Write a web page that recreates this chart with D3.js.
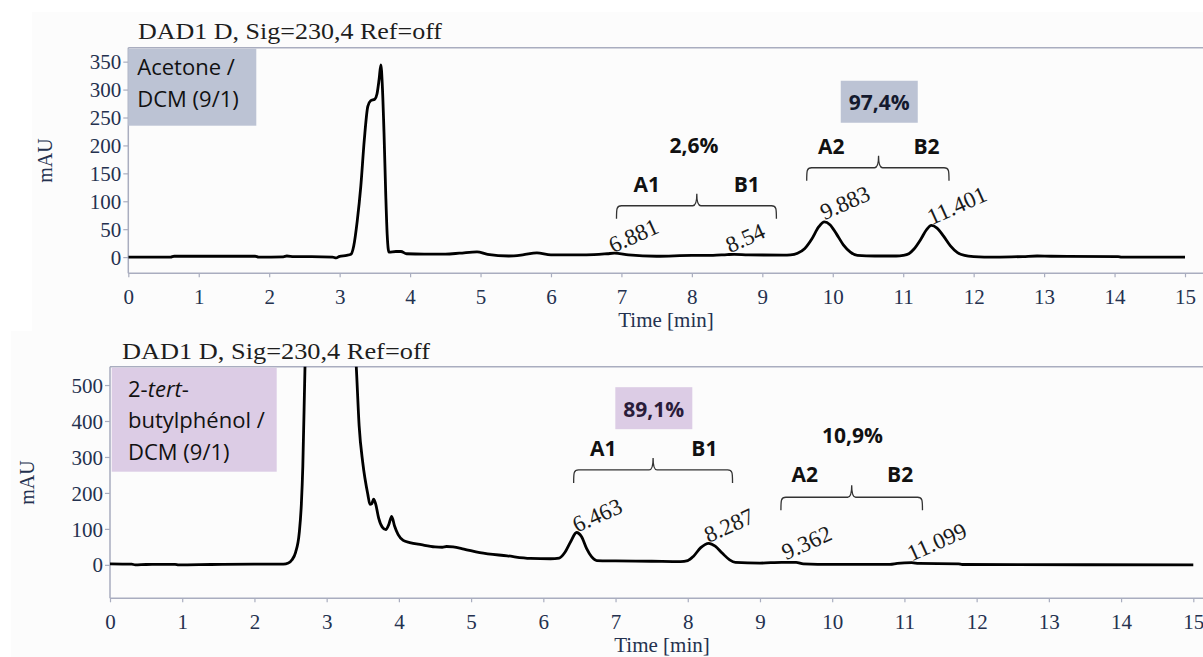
<!DOCTYPE html>
<html><head><meta charset="utf-8">
<script src="https://cdn.jsdelivr.net/npm/d3@7"></script>
<style>body{margin:0;background:#fff}svg{display:block}</style>
</head><body><svg id="c" width="1203" height="657"></svg>
<script>
// ---------- DATA ----------
const xTickValues = [0,1,2,3,4,5,6,7,8,9,10,11,12,13,14,15];
const topYTicks = [0,50,100,150,200,250,300,350];
const botYTicks = [0,100,200,300,400,500];
const titleText = "DAD1 D, Sig=230,4 Ref=off";
const xLabel = "Time [min]";
const yLabel = "mAU";

// Top chromatogram (Acetone / DCM)
const topTime = [0,0.6,0.65,1.8,1.85,2.2,2.25,2.35,2.6,2.9,2.95,3.0,3.1,3.16,3.2,3.25,3.3,3.35,3.4,3.44,3.5,3.53,3.56,3.585,3.605,3.63,3.655,3.675,3.7,3.8,3.87,3.95,4.2,4.5,4.7,4.95,5.1,5.4,5.6,5.8,6.0,6.5,6.8,6.9,7.1,7.5,8.0,8.3,8.5,8.6,8.8,9.3,9.4,9.5,9.6,9.7,9.8,9.88,9.96,10.05,10.15,10.25,10.35,10.6,10.9,11.0,11.08,11.15,11.25,11.33,11.4,11.48,11.57,11.67,11.77,11.87,12.0,12.3,12.7,12.9,13.1,14.05,14.1,15];
const topMAU  = [0,0,1.5,1.5,0,0.5,2,1,1,0,-1.5,1.5,3,5,20,65,126,210,270,280,283,292,318,344,310,222,110,40,9,10,10,6,5.5,5.5,7,9.5,5,2,4,7.5,4,4,6,7,4,1.5,3,3,4.5,5,4,3.5,4,7,15,32,54,63,58,42,22,9,3,2,2,3,6,14,32,49,57,52,38,20,8,3,1,0,1,2,1.5,1,0,0];
const topPeakTimes   = [6.881, 8.54, 9.883, 11.401];
const topPeakLabels  = ["6.881", "8.54", "9.883", "11.401"];
const topPeakHeights = [7, 7, 66, 57];

// Bottom chromatogram (2-tert-butylphenol / DCM)
const botTime = [0,0.3,0.35,0.5,0.9,0.95,1.4,2.0,2.4,2.47,2.52,2.57,2.62,2.65,2.67,2.7,2.75,2.9,3.1,3.3,3.38,3.41,3.45,3.5,3.57,3.6,3.625,3.65,3.68,3.72,3.77,3.82,3.86,3.9,3.94,3.99,4.06,4.15,4.31,4.5,4.6,4.66,4.75,4.9,5.12,5.5,5.82,6.1,6.22,6.3,6.38,6.46,6.53,6.6,6.67,6.74,7.0,7.5,7.9,8.0,8.08,8.18,8.29,8.38,8.48,8.58,8.66,9.0,9.3,9.5,9.6,10.0,10.8,10.9,11.1,11.2,11.75,11.8,15];
const botMAU  = [3,2,0,1,1.5,0,1,2,2,5,14,35,88,170,275,551,900,1400,1500,900,650,551,386,284,196,168,170,183,168,130,105,98,112,135,108,84,68,62,56,50,49,51,50,44,34,25,18,17,19,35,65,90,78,45,22,12,11,10,9,12,24,48,60,52,32,14,7,5,7,7,3,1.5,1.5,4,6,4,3,1,0];
const botPeakTimes   = [6.463, 8.287, 9.362, 11.099];
const botPeakLabels  = ["6.463", "8.287", "9.362", "11.099"];
const botPeakHeights = [89, 61, 13, 9];

// Annotations (data coordinates: time, mAU)
const topGroupLabels = ["A1","B1","A2","B2"];
const topGroupPos    = [[7.36,117],[8.78,117],[9.98,185],[11.33,185]];
const topBraces      = [[6.93,9.20,8.07,92],[9.63,11.65,10.65,160]];
const topPercents    = ["2,6%","97,4%"];
const topPercentPos  = [[8.03,186],[10.66,263]];
const topPercentBoxed= [false,true];

const botGroupLabels = ["A1","B1","A2","B2"];
const botGroupPos    = [[6.83,303],[8.23,303],[9.62,231],[10.94,231]];
const botBraces      = [[6.42,8.62,7.52,264],[9.29,11.25,10.27,188]];
const botPercents    = ["89,1%","10,9%"];
const botPercentPos  = [[7.53,412],[10.28,338]];
const botPercentBoxed= [true,false];

// ---------- DRAWING ----------
const svg = d3.select("#c");
const AXIS = "#a9adbf", TICKTXT = "#24314f", INK = "#111";
const BLUEBOX = "#bcc3d4", PURPLEBOX = "#dccce5";

svg.append("rect").attr("x",32).attr("y",12).attr("width",1171).attr("height",319).attr("fill","#fcfcfc");
svg.append("rect").attr("x",11).attr("y",331).attr("width",1192).attr("height",326).attr("fill","#fcfcfc");

function panel(cfg){
  const g = svg.append("g");
  const x = d3.scaleLinear().domain([0,15]).range([cfg.x0, cfg.x1]);
  const y = d3.scaleLinear().domain(cfg.yDomain).range([cfg.yb, cfg.yt]);
  const clipId = "clip" + cfg.id;
  svg.append("clipPath").attr("id", clipId).append("rect")
    .attr("x", cfg.x0).attr("y", cfg.yt).attr("width", 1203-cfg.x0).attr("height", cfg.yb-cfg.yt);

  g.append("line").attr("x1",cfg.x0).attr("x2",1203).attr("y1",cfg.yt).attr("y2",cfg.yt).attr("stroke",AXIS).attr("stroke-width",1.5);

  const xAxis = d3.axisBottom(x).tickValues(xTickValues).tickSize(4).tickSizeOuter(0).tickPadding(8);
  const gx = g.append("g").attr("transform",`translate(0,${cfg.yb})`).call(xAxis);
  gx.select(".domain").remove();
  gx.append("line").attr("x1",cfg.x0).attr("x2",1203).attr("y1",0).attr("y2",0).attr("stroke",AXIS).attr("stroke-width",1.5);
  gx.selectAll(".tick line").attr("stroke",AXIS).attr("stroke-width",1.2);
  gx.selectAll(".tick text").attr("fill",TICKTXT).attr("font-family","Liberation Serif").attr("font-size",21).attr("dy","0.9em");

  const yAxis = d3.axisLeft(y).tickValues(cfg.yTicks).tickSize(5).tickSizeOuter(0).tickPadding(2);
  const gy = g.append("g").attr("transform",`translate(${cfg.x0},0)`).call(yAxis);
  gy.select(".domain").remove();
  gy.append("line").attr("x1",0).attr("x2",0).attr("y1",cfg.yt).attr("y2",cfg.yb).attr("stroke",AXIS).attr("stroke-width",1.5);
  gy.selectAll(".tick line").attr("stroke",AXIS).attr("stroke-width",1.2);
  gy.selectAll(".tick text").attr("fill",TICKTXT).attr("font-family","Liberation Serif").attr("font-size",21).attr("dy","0.34em");

  g.append("text").attr("x",cfg.xlabX).attr("y",cfg.xlabY).attr("text-anchor","middle")
    .attr("font-family","Liberation Serif").attr("font-size",21).attr("fill",TICKTXT).text(xLabel);
  g.append("text").attr("transform",`translate(${cfg.ylabX},${(cfg.yt+cfg.yb)/2}) rotate(-90)`).attr("text-anchor","middle")
    .attr("font-family","Liberation Serif").attr("font-size",20).attr("fill",TICKTXT).text(yLabel);
  g.append("text").attr("x",cfg.titleX).attr("y",cfg.titleY).attr("font-family","Liberation Serif").attr("font-size",23)
    .attr("fill","#1e1e1e").attr("textLength",cfg.titleW).attr("lengthAdjust","spacingAndGlyphs").text(titleText);

  const pts = cfg.time.map((t,i)=>[t, cfg.vals[i]]);
  const line = d3.line().x(d=>x(d[0])).y(d=>y(d[1])).curve(d3.curveMonotoneX);
  g.append("path").attr("clip-path",`url(#${clipId})`).attr("d",line(pts))
    .attr("fill","none").attr("stroke","#000").attr("stroke-width",2.8).attr("stroke-linejoin","round");

  cfg.peakTimes.forEach((t,i)=>{
    g.append("text").attr("transform",`translate(${x(t)},${y(cfg.peakHeights[i])}) rotate(-24)`)
      .attr("font-family","Liberation Serif").attr("font-size",23).attr("fill","#1a1a1a").text(cfg.peakLabels[i]);
  });

  const bx = g.append("g");
  bx.append("rect").attr("x",cfg.x0+cfg.boxOff).attr("y",cfg.yt+1).attr("width",cfg.boxW).attr("height",cfg.boxH).attr("fill",cfg.boxFill);
  cfg.boxLines.forEach((ln,i)=>{
    const tx = bx.append("text").attr("x",cfg.x0+cfg.boxPad).attr("y",cfg.yt+cfg.boxBase+i*cfg.boxLead)
      .attr("font-family","Open Sans").attr("font-size",22).attr("fill",INK);
    ln.forEach(seg=>tx.append("tspan").attr("font-style",seg.i?"italic":"normal").text(seg.t));
  });

  cfg.braces.forEach(b=>{
    const x1=x(b[0]), x2=x(b[1]), xc=x(b[2]), yy=y(b[3]);
    const dn=cfg.braceDown, up=cfg.braceUp;
    const d = `M${x1},${yy+dn} C${x1},${yy+3} ${x1},${yy} ${x1+5},${yy} L${xc-4},${yy} Q${xc},${yy} ${xc},${yy-up} Q${xc},${yy} ${xc+4},${yy} L${x2-5},${yy} C${x2},${yy} ${x2},${yy+3} ${x2},${yy+dn}`;
    g.append("path").attr("d",d).attr("fill","none").attr("stroke","#333").attr("stroke-width",1.3);
  });

  cfg.groupLabels.forEach((lb,i)=>{
    g.append("text").attr("x",x(cfg.groupPos[i][0])).attr("y",y(cfg.groupPos[i][1])).attr("text-anchor","middle")
      .attr("font-family","Open Sans").attr("font-weight","bold").attr("font-size",21).attr("fill",INK).text(lb);
  });
  cfg.percents.forEach((p,i)=>{
    const px = x(cfg.percentPos[i][0]), py = y(cfg.percentPos[i][1]);
    if (cfg.percentBoxed[i]) {
      g.append("rect").attr("x",px-38.5).attr("y",py-29.5).attr("width",77).attr("height",42).attr("fill",cfg.boxFill);
    }
    g.append("text").attr("x",px).attr("y",py).attr("text-anchor","middle")
      .attr("font-family","Open Sans").attr("font-weight","bold").attr("font-size",21).attr("fill",cfg.percentBoxed[i]?cfg.boxInk:INK).text(p);
  });
}

panel({id:"t", x0:128.3, x1:1185, yt:47.7, yb:273.3, yDomain:[-29,375], yTicks:topYTicks,
  time:topTime, vals:topMAU, peakTimes:topPeakTimes, peakLabels:topPeakLabels, peakHeights:topPeakHeights,
  xlabX:666, xlabY:327, ylabX:52, titleX:138, titleY:39, titleW:304,
  boxOff:0, boxW:128, boxH:77, boxFill:BLUEBOX, boxInk:"#141a2e", boxPad:9, boxBase:27, boxLead:32,
  boxLines:[[{t:"Acetone /"}],[{t:"DCM (9/1)"}]],
  braces:topBraces, braceDown:13, braceUp:12, groupLabels:topGroupLabels, groupPos:topGroupPos,
  percents:topPercents, percentPos:topPercentPos, percentBoxed:topPercentBoxed});

panel({id:"b", x0:110, x1:1193.3, yt:366.7, yb:598.3, yDomain:[-93,551], yTicks:botYTicks,
  time:botTime, vals:botMAU, peakTimes:botPeakTimes, peakLabels:botPeakLabels, peakHeights:botPeakHeights,
  xlabX:662, xlabY:652, ylabX:34, titleX:122, titleY:359, titleW:308,
  boxOff:1.7, boxW:165, boxH:104, boxFill:PURPLEBOX, boxInk:"#2a1c3a", boxPad:18, boxBase:30, boxLead:31.5,
  boxLines:[[{t:"2-"},{t:"tert",i:true},{t:"-"}],[{t:"butylphénol /"}],[{t:"DCM (9/1)"}]],
  braces:botBraces, braceDown:13, braceUp:12, groupLabels:botGroupLabels, groupPos:botGroupPos,
  percents:botPercents, percentPos:botPercentPos, percentBoxed:botPercentBoxed});
</script>
</body></html>
